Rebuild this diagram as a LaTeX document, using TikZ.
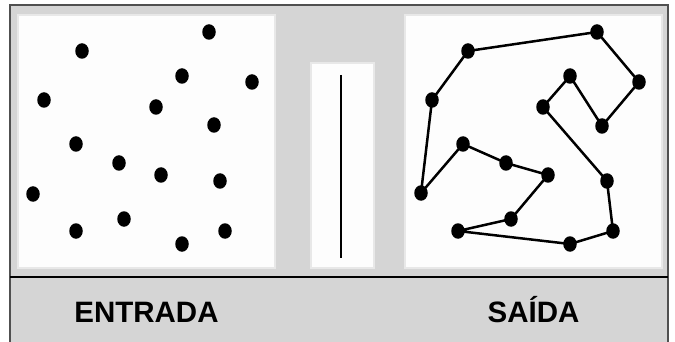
\documentclass[tikz,border=0pt]{standalone}
\usepackage{fontspec}
\setmainfont{Liberation Sans}
\usetikzlibrary{shapes.geometric}
\definecolor{bggray}{HTML}{D5D5D5}
\definecolor{framegray}{HTML}{505050}
\definecolor{panelwhite}{HTML}{FDFDFD}
\definecolor{paneledge}{HTML}{E8E8E8}
\tikzset{
  dot/.style={ellipse, fill=black, draw=none, inner sep=0pt, minimum width=13.5pt, minimum height=15.5pt},
  panel/.style={fill=panelwhite, draw=paneledge, line width=1.2pt},
  label/.style={font=\bfseries\fontsize{29.5}{32}\selectfont, inner sep=0pt, anchor=base},
  tour/.style={line width=2.5pt, black, line cap=round, line join=round}
}
\begin{document}
\begin{tikzpicture}[x=1pt, y=-1pt]
\useasboundingbox (0,0) rectangle (675,342);
\fill[white] (0,0) rectangle (675,342);
% background frame
\fill[bggray] (10,5) rectangle (668,342);
\draw[framegray, line width=2pt] (10,343) -- (10,5) -- (668,5) -- (668,343);
% panels
\draw[panel] (18,15) rectangle (275,268);
\draw[panel] (311,63) rectangle (374,268);
\draw[panel] (405,15) rectangle (662,268);
% divider
\draw[black, line width=1.5pt] (10,277) -- (668,277);
% middle line
\coordinate (mtop) at (341,75);
\coordinate (mbot) at (341,258);
\draw[black, line width=2pt] (mtop) -- (mbot);
% left dots
\node[dot] (l1) at (82,51) {};
\node[dot] (l2) at (209,32) {};
\node[dot] (l3) at (182,76) {};
\node[dot] (l4) at (252,82) {};
\node[dot] (l5) at (44,100) {};
\node[dot] (l6) at (156,107) {};
\node[dot] (l7) at (214,125) {};
\node[dot] (l8) at (76,144) {};
\node[dot] (l9) at (119,163) {};
\node[dot] (l10) at (161,175) {};
\node[dot] (l11) at (220,181) {};
\node[dot] (l12) at (33,194) {};
\node[dot] (l13) at (124,219) {};
\node[dot] (l14) at (76,231) {};
\node[dot] (l15) at (182,244) {};
\node[dot] (l16) at (225,231) {};
% right dots
\node[dot] (rA) at (468,51) {};
\node[dot] (rB) at (597,32) {};
\node[dot] (rC) at (639,82) {};
\node[dot] (rD) at (602,126) {};
\node[dot] (rE) at (570,76) {};
\node[dot] (rF) at (543,107) {};
\node[dot] (rG) at (607,181) {};
\node[dot] (rH) at (613,231) {};
\node[dot] (rI) at (570,244) {};
\node[dot] (rJ) at (458,231) {};
\node[dot] (rK) at (511,219) {};
\node[dot] (rL) at (548,175) {};
\node[dot] (rM) at (506,163) {};
\node[dot] (rN) at (463,144) {};
\node[dot] (rO) at (421,193) {};
\node[dot] (rP) at (432,100) {};
\draw[tour] (rA.center) -- (rB.center) -- (rC.center) -- (rD.center) -- (rE.center) -- (rF.center) -- (rG.center) -- (rH.center) -- (rI.center) -- (rJ.center) -- (rK.center) -- (rL.center) -- (rM.center) -- (rN.center) -- (rO.center) -- (rP.center) -- cycle;
% labels
\node[label] (entrada) at (146.5,322) {ENTRADA};
\node[label] (saida) at (533.5,322) {SAÍDA};
\end{tikzpicture}
\end{document}
